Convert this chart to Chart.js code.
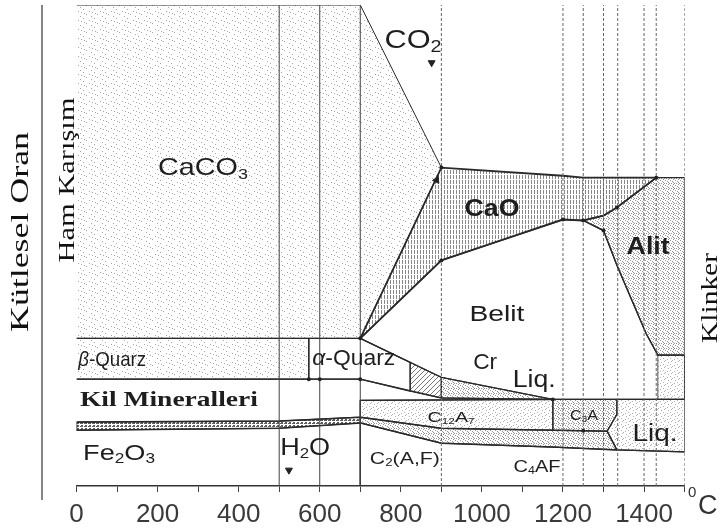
<!DOCTYPE html>
<html>
<head>
<meta charset="utf-8">
<script src="https://cdn.jsdelivr.net/npm/chart.js@4.4.0/dist/chart.umd.min.js"></script>
<style>
html, body { margin: 0; padding: 0; background: #fff; }
</style>
</head>
<body>
<canvas id="chart" width="724" height="531"></canvas>
<script>
// temperatures (°C) of the vertical guide lines, and the axis labels
const vLines = [500, 600, 700, 900, 1200, 1250, 1300, 1335, 1400, 1430, 1500];
const xTicks = [0, 200, 400, 600, 800, 1000, 1200, 1400];

// phase regions as [temperature, mass %] outlines
const caco3 = [[0, 100], [700, 100], [900, 66.2], [700, 30.7], [0, 30.7]];
const cao = [[700, 30.7], [900, 66.2], [1200, 64.5], [1250, 64.1], [1430, 64.1], [1333, 57.9], [1300, 56.2], [1250, 55.2], [1200, 55.4], [1045, 51.0], [900, 46.9], [700, 30.7]];
const alit = [[1250, 55.2], [1300, 56.2], [1333, 57.9], [1430, 64.1], [1500, 64.1], [1500, 27.2], [1434, 27.2], [1405, 31.7], [1333, 45.9], [1300, 53.1], [1250, 55.2]];
const belit = [[700, 30.7], [900, 46.9], [1045, 51.0], [1200, 55.4], [1250, 55.2], [1300, 53.1], [1333, 45.9], [1405, 31.7], [1434, 27.2], [1500, 27.2], [1500, 18.0], [1175, 18.0], [900, 22.6], [700, 30.7]];
const klinkerBelit = [[1434, 27.2], [1500, 27.2], [1500, 18.0], [1434, 18.0], [1434, 27.2]];
const betaQuarz = [[0, 30.7], [573, 30.7], [573, 22.2], [0, 22.2]];
const alphaQuarz = [[573, 30.7], [700, 30.7], [823, 25.7], [823, 19.7], [700, 22.2], [573, 22.2], [573, 30.7]];
const crHatch = [[823, 25.7], [900, 22.6], [900, 18.3], [823, 19.7], [823, 25.7]];
const crLiq = [[900, 22.6], [1175, 18.0], [900, 18.3], [900, 22.6]];
const kil = [[0, 22.2], [700, 22.2], [900, 18.3], [1175, 18.0], [700, 17.8], [700, 14.3], [500, 13.5], [0, 13.3]];
const clayBand = [[0, 13.3], [500, 13.5], [700, 14.3], [700, 13.1], [500, 12.0], [0, 11.6], [0, 13.3]];
const fe2o3 = [[0, 11.6], [500, 12.0], [700, 13.1], [700, 0]];
const c12a7 = [[700, 17.8], [1175, 18.0], [1175, 11.6], [900, 12.0], [700, 14.3], [700, 17.8]];
const meltBand = [[700, 14.3], [900, 12.0], [1175, 11.6], [1309, 11.4], [1333, 7.5], [1175, 8.1], [900, 8.9], [700, 13.1], [700, 14.3]];
const c2af = [[700, 13.1], [900, 8.9], [1175, 8.1], [1333, 7.5], [1500, 7.1]];
const c3a = [[1175, 18.0], [1333, 18.0], [1333, 14.9], [1309, 11.4], [1175, 11.6], [1175, 18.0]];
const liq = [[1333, 18.0], [1500, 18.0], [1500, 7.1], [1333, 7.5], [1309, 11.4], [1333, 14.9], [1333, 18.0]];

// small markers
const nodes = [[700, 30.7], [900, 66.2], [900, 46.9], [1200, 55.4], [1250, 55.2], [1300, 53.1], [1333, 57.9], [600, 22.2], [700, 22.2], [573, 22.2], [1250, 11.5], [1430, 64.1], [1175, 18.0]];
const arrows = [[888, 63.6], [876, 88.0], [524, 3.3]];
const arrowTurn = [25, 180, 180];

function pts(a) { return a.map(p => ({ x: p[0], y: p[1] })); }

function makePattern(w, h, draw) {
    const c = document.createElement("canvas");
    c.width = w; c.height = h;
    const g = c.getContext("2d");
    draw(g);
    return g.createPattern(c, "repeat");
}
// scattered halftone grain like the scan
const speckle = makePattern(11, 9, g => {
    g.fillStyle = "rgba(80,80,80,0.5)";
    [[1, 2], [6, 0], [9, 5], [3, 7], [7, 4], [4, 3]].forEach(d => g.fillRect(d[0], d[1], 1, 1));
});
const lightDots = makePattern(7, 6, g => {
    g.fillStyle = "rgba(80,80,80,0.45)";
    [[0, 0], [3, 2], [5, 4], [2, 5], [6, 1]].forEach(d => g.fillRect(d[0], d[1], 1, 1));
});
const vHatch = makePattern(3, 5, g => {
    g.fillStyle = "rgba(55,55,55,0.6)";
    g.fillRect(0, 0, 1, 4);
});
const dots = makePattern(5, 5, g => {
    g.fillStyle = "rgba(60,60,60,0.55)";
    [[0, 0], [2, 1], [4, 3], [1, 3], [3, 4], [3, 2]].forEach(d => g.fillRect(d[0], d[1], 1, 1));
});
const dense = makePattern(4, 3, g => {
    g.fillStyle = "rgba(40,40,40,0.75)";
    g.fillRect(0, 0, 3, 1); g.fillRect(1, 2, 2, 1);
});
const diag = makePattern(5, 5, g => {
    g.strokeStyle = "rgba(60,60,60,0.7)";
    g.lineWidth = 1;
    g.beginPath(); g.moveTo(0, 5); g.lineTo(5, 0); g.stroke();
});

function region(data, fillStyle, width) {
    return {
        data: pts(data),
        showLine: true,
        fill: fillStyle ? "shape" : false,
        backgroundColor: fillStyle || "transparent",
        borderColor: "#2a2a2a",
        borderWidth: width || 1.2,
        pointRadius: 0,
        order: 10
    };
}

const datasets = [
    region(caco3, speckle, 1),
    region(cao, vHatch, 1.8),
    region(alit, dots, 1.3),
    region(belit, null, 1.3),
    region(klinkerBelit, lightDots, 0.8),
    region(betaQuarz, speckle, 1.3),
    region(alphaQuarz, null, 1.3),
    region(crHatch, diag, 1),
    region(crLiq, dots, 1),
    region(kil, null, 1.3),
    region(clayBand, dense, 1.5),
    region(fe2o3, null, 1),
    region(c12a7, lightDots, 1.2),
    region(meltBand, dots, 1.5),
    region(c2af, null, 1.3),
    region(c3a, dots, 1.2),
    region(liq, lightDots, 1.2)
];

vLines.forEach(t => {
    datasets.push({
        data: [{ x: t, y: 0 }, { x: t, y: 100 }],
        showLine: true,
        borderColor: t <= 700 ? "#444" : "#666",
        borderWidth: 1,
        borderDash: t <= 700 ? [] : [3, 2],
        pointRadius: 0,
        order: 5
    });
});

datasets.push({
    data: pts(nodes),
    pointRadius: 2,
    pointBackgroundColor: "#222",
    pointBorderWidth: 0,
    order: 1
});
datasets.push({
    data: pts(arrows),
    pointStyle: "triangle",
    pointRadius: 4,
    pointRotation: arrowTurn,
    pointBackgroundColor: "#222",
    pointBorderColor: "#222",
    order: 1
});

// text written on the diagram: [parts, temperature, mass %, width px, size, weight, family]
// part style: 0 normal, 1 subscript, 2 italic
const SANS = "'Liberation Sans', Arial, sans-serif";
const SERIF = "'Liberation Serif', 'DejaVu Serif', serif";
const labels = [
    [[["CaCO", 0], ["3", 1]], 312, 66.4, 90, 24, "normal", SANS],
    [[["CO", 0], ["2", 1]], 830, 92.9, 57, 25, "normal", SANS],
    [[["CaO", 0]], 1025, 57.9, 55, 23, "bold", SANS],
    [[["Alit", 0]], 1410, 50.0, 43, 23, "bold", SANS],
    [[["Belit", 0]], 1037, 35.9, 55, 22, "normal", SANS],
    [[["β", 2], ["-Quarz", 0]], 88, 26.6, 68, 21, "normal", SANS],
    [[["α", 2], ["-Quarz", 0]], 684, 26.8, 83, 22, "normal", SANS],
    [[["Kil Mineralleri", 0]], 228, 18.3, 178, 22, "bold", SERIF],
    [[["Fe", 0], ["2", 1], ["O", 0], ["3", 1]], 105, 7.1, 72, 22, "normal", SANS],
    [[["H", 0], ["2", 1], ["O", 0]], 564, 8.3, 50, 24, "normal", SANS],
    [[["Cr", 0]], 1008, 25.9, 24, 22, "normal", SANS],
    [[["Liq.", 0]], 1129, 22.4, 43, 23, "normal", SANS],
    [[["C", 0], ["12", 1], ["A", 0], ["7", 1]], 924, 14.5, 47, 15, "normal", SANS],
    [[["C", 0], ["3", 1], ["A", 0]], 1252, 14.9, 28, 15, "normal", SANS],
    [[["Liq.", 0]], 1427, 11.0, 45, 23, "normal", SANS],
    [[["C", 0], ["2", 1], ["(A,F)", 0]], 810, 5.8, 70, 16, "normal", SANS],
    [[["C", 0], ["4", 1], ["AF", 0]], 1136, 4.1, 47, 16, "normal", SANS]
];

function partFont(style, size, weight, family) {
    const s = style === 1 ? Math.round(size * 0.62) : size;
    return (style === 2 ? "italic " : "") + weight + " " + s + "px " + family;
}

function drawParts(ctx, parts, cx, cy, width, size, weight, family) {
    let total = 0;
    parts.forEach(p => { ctx.font = partFont(p[1], size, weight, family); total += ctx.measureText(p[0]).width; });
    const sx = width / total;
    ctx.save();
    ctx.translate(cx, cy);
    ctx.scale(sx, 1);
    ctx.textBaseline = "alphabetic";
    ctx.textAlign = "left";
    let x = -total / 2;
    parts.forEach(p => {
        ctx.font = partFont(p[1], size, weight, family);
        ctx.fillText(p[0], x, p[1] === 1 ? size * 0.5 : size * 0.36);
        x += ctx.measureText(p[0]).width;
    });
    ctx.restore();
}

function drawSide(ctx, text, cx, cy, len, size) {
    ctx.save();
    ctx.font = size + "px " + SERIF;
    const w = ctx.measureText(text).width;
    ctx.translate(cx, cy);
    ctx.rotate(-Math.PI / 2);
    ctx.scale(len / w, 1);
    ctx.textAlign = "center";
    ctx.textBaseline = "middle";
    ctx.fillText(text, 0, 0);
    ctx.restore();
}

const textPlugin = {
    id: "texts",
    afterDatasetsDraw(chart) {
        const ctx = chart.ctx;
        const xs = chart.scales.x, ys = chart.scales.y;
        ctx.save();
        ctx.fillStyle = "#1e1e1e";
        labels.forEach(l => {
            drawParts(ctx, l[0], xs.getPixelForValue(l[1]), ys.getPixelForValue(l[2]), l[3], l[4], l[5], l[6]);
        });
        // side titles
        ctx.fillStyle = "#111";
        drawSide(ctx, "Kütlesel Oran", 21, 232, 200, 25);
        drawSide(ctx, "Ham Karışım", 68, 180, 165, 23);
        drawSide(ctx, "Klinker", 711, 298, 90, 23);
        ctx.strokeStyle = "#333";
        ctx.lineWidth = 1.2;
        ctx.beginPath();
        ctx.moveTo(42, 5);
        ctx.lineTo(42, 500);
        ctx.stroke();
        // unit
        ctx.fillStyle = "#333";
        ctx.font = "15px " + SANS;
        ctx.fillText("0", 688, 497);
        ctx.font = "27px " + SANS;
        ctx.fillText("C", 698, 514);
        ctx.restore();
    }
};

const chart = new Chart(document.getElementById("chart"), {
    type: "scatter",
    data: { datasets: datasets },
    options: {
        responsive: false,
        animation: false,
        devicePixelRatio: 1,
        layout: { padding: { left: 76.5, right: 39.4, top: 4, bottom: 0 } },
        plugins: { legend: { display: false }, tooltip: { enabled: false } },
        scales: {
            x: {
                type: "linear",
                min: 0,
                max: 1500,
                afterFit(scale) { scale.height = 45; },
                ticks: {
                    stepSize: 100,
                    autoSkip: false,
                    maxRotation: 0,
                    padding: 7,
                    color: "#3a3a3a",
                    font: { size: 26, family: SANS },
                    callback: v => xTicks.includes(v) ? String(v) : ""
                },
                grid: { drawOnChartArea: false, tickLength: 6, color: "#444" },
                border: { color: "#333", width: 1.5 }
            },
            y: { min: 0, max: 100, display: false }
        }
    },
    plugins: [textPlugin]
});
</script>
</body>
</html>
